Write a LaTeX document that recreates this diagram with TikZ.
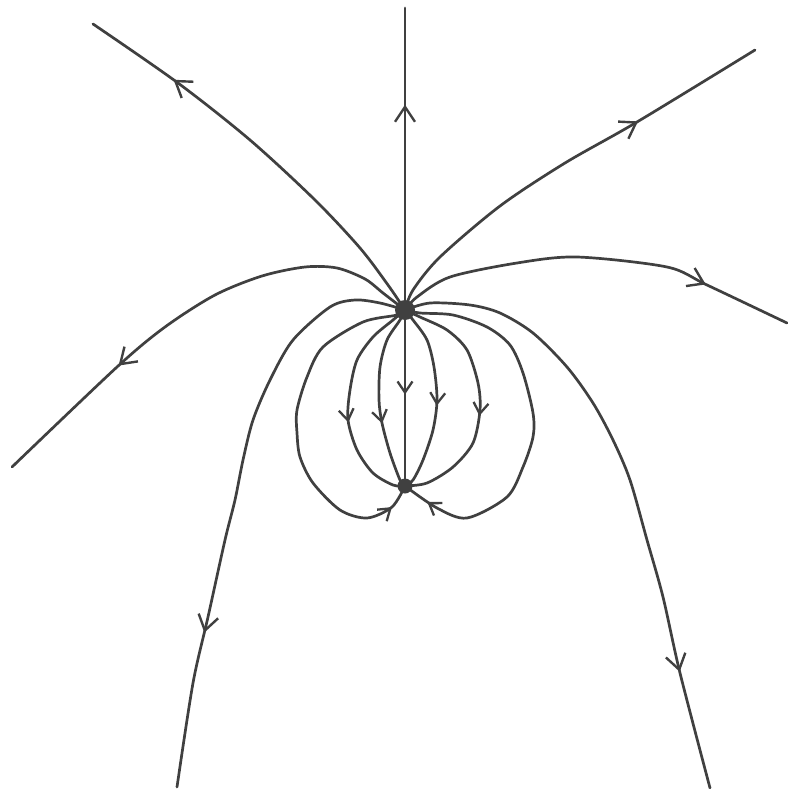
\documentclass[tikz,border=0pt]{standalone}
\usetikzlibrary{arrows.meta,decorations.markings}
\definecolor{ink}{HTML}{404040}
\begin{document}
\begin{tikzpicture}[x=1pt,y=-1pt,
  fl/.style={draw=ink, line width=2.7pt, line cap=round, line join=round},
  bigarr/.style={postaction={decorate,decoration={markings,
     mark=at position #1 with {\arrow[ink,line width=2.4pt]{Straight Barb[length=15pt,width=20pt]}}}}},
  smallarr/.style={postaction={decorate,decoration={markings,
     mark=at position #1 with {\arrow[ink,line width=2.3pt]{Straight Barb[length=11pt,width=15pt]}}}}},
  dot/.style={circle, fill=ink, inner sep=0pt, minimum size=#1}]
\useasboundingbox (0,0) rectangle (787,789);
\coordinate (A) at (405,310);
\coordinate (B) at (405,486);
\coordinate (top) at (405,8);
\coordinate (ulend) at (93,24);
\coordinate (urend) at (755,50);
\coordinate (l1end) at (12,467);
\coordinate (r1end) at (787,323);
\coordinate (l2end) at (177,787);
\coordinate (r2end) at (710,788);

% open field lines
\draw[fl,bigarr=0.68] (A) -- (top);
\draw[fl,bigarr=0.77] plot[smooth] coordinates {(A) (388,285) (360,248) (315,200) (250,140) (178,83) (ulend)};
\draw[fl,bigarr=0.69] plot[smooth] coordinates {(A) (413,290) (440,257) (500,206) (565,163) (637,122) (urend)};
\draw[fl,bigarr=0.69] plot[smooth] coordinates {(A) (383,293) (365,279) (337,268) (305,267) (262,276) (215,295) (165,327) (117,367) (l1end)};
\draw[fl,bigarr=0.78] plot[smooth] coordinates {(A) (417,297) (450,277) (517,263) (577,257) (667,267) (707,285) (r1end)};
\draw[fl,bigarr=0.735] plot[smooth] coordinates {(A) (380,303) (355,300) (330,307) (293,340) (270,380) (253,420) (243,460) (235,500) (225,540) (208,617) (193,683) (l2end)};
\draw[fl,bigarr=0.81] plot[smooth] coordinates {(A) (430,303) (470,305) (500,313) (533,333) (567,367) (593,403) (613,440) (630,480) (647,540) (663,597) (680,673) (r2end)};

% closed loops A -> B
\draw[fl,smallarr=0.48] (A) -- (B);
\draw[fl,smallarr=0.64] plot[smooth] coordinates {(A) (400,320) (387,340) (380,367) (379,400) (382,423) (390,453) (400,480) (B)};
\draw[fl,smallarr=0.59] plot[smooth] coordinates {(A) (393,320) (373,337) (357,360) (350,390) (348,420) (357,450) (373,473) (393,485) (B)};
\draw[fl,smallarr=0.93] plot[smooth] coordinates {(A) (397,315) (363,322) (323,347) (307,377) (297,410) (297,433) (300,457) (313,483) (340,510) (367,518) (392,507) (B)};
\draw[fl,smallarr=0.54] plot[smooth] coordinates {(A) (413,320) (427,340) (434,367) (437,400) (433,430) (423,460) (413,480) (B)};
\draw[fl,smallarr=0.56] plot[smooth] coordinates {(A) (420,317) (447,330) (467,350) (478,383) (480,410) (473,443) (453,467) (427,483) (B)};
\draw[fl,smallarr=0.93] plot[smooth] coordinates {(A) (420,313) (453,315) (487,327) (510,345) (523,373) (533,413) (533,437) (523,467) (507,497) (467,518) (437,508) (B)};

% equilibrium points
\node[dot=20pt] (P) at (A) {};
\node[dot=15pt] (Q) at (B) {};
\end{tikzpicture}
\end{document}
